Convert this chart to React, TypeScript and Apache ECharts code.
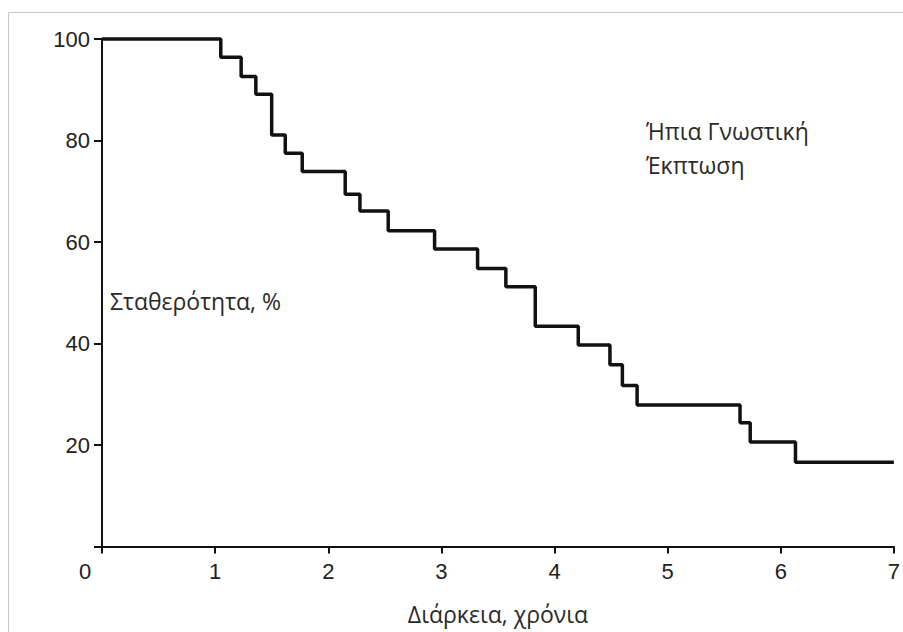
import React, { useEffect, useRef } from "react";
import * as echarts from "echarts";

const timesYears = [0, 1.05, 1.23, 1.36, 1.5, 1.62, 1.77, 2.15, 2.28, 2.53, 2.94, 3.32, 3.57, 3.83, 4.21, 4.49, 4.6, 4.73, 5.64, 5.73, 6.13, 7.0];
const stabilityPct = [100, 96.4, 92.6, 89.1, 81.1, 77.5, 73.9, 69.4, 66.1, 62.2, 58.6, 54.8, 51.2, 43.4, 39.7, 35.8, 31.7, 27.9, 24.4, 20.6, 16.6, 16.6];
const xTicks = [0, 1, 2, 3, 4, 5, 6, 7];
const yTicks = [0, 20, 40, 60, 80, 100];
const yAxisTitle = "Σταθερότητα, %";
const xAxisTitle = "Διάρκεια, χρόνια";
const groupLabel = ["Ήπια Γνωστική", "Έκπτωση"];

const tickFont = "Liberation Sans";
const textFont = "'Open Sans', 'Noto Sans', sans-serif";

function textEl(text: string, x: number, y: number, align: string) {
  return {
    type: "text",
    x,
    y,
    style: {
      text,
      fontFamily: textFont,
      fontSize: 23,
      fill: "#2a2a2a",
      verticalAlign: "middle",
      align,
    },
  };
}

export default function App() {
  const ref = useRef<HTMLDivElement>(null);
  useEffect(() => {
    if (!ref.current) return;
    const chart = echarts.init(ref.current, undefined, { renderer: "svg" });
    const data = timesYears.map((t, i) => [t, stabilityPct[i]]);
    chart.setOption({
      animation: false,
      backgroundColor: "#ffffff",
      grid: { left: 102, right: 5, top: 39, bottom: 85.5, containLabel: false },
      xAxis: {
        type: "value",
        min: xTicks[0],
        max: xTicks[xTicks.length - 1],
        interval: 1,
        splitLine: { show: false },
        axisLine: { show: true, onZero: false, lineStyle: { color: "#111", width: 2 } },
        axisTick: { show: true, inside: false, length: 7, lineStyle: { color: "#111", width: 2 } },
        axisLabel: {
          margin: 14,
          color: "#222",
          fontFamily: tickFont,
          fontSize: 22,
          formatter: (v: number) => (v === 0 ? "{z|0}" : String(v)),
          rich: { z: { fontFamily: tickFont, fontSize: 22, color: "#222", padding: [0, 34, 0, 0] } },
        },
      },
      yAxis: {
        type: "value",
        min: yTicks[0],
        max: yTicks[yTicks.length - 1],
        interval: 20,
        splitLine: { show: false },
        axisLine: { show: true, lineStyle: { color: "#111", width: 2 } },
        axisTick: { show: true, inside: false, length: 8, lineStyle: { color: "#111", width: 2 } },
        axisLabel: {
          margin: 12,
          color: "#222",
          fontFamily: tickFont,
          fontSize: 22,
          formatter: (v: number) => (v === 0 ? "" : String(v)),
        },
      },
      series: [
        {
          type: "line",
          step: "end",
          data,
          symbol: "none",
          lineStyle: { color: "#111", width: 3.5 },
          clip: false,
        },
      ],
      graphic: [
        {
          type: "rect",
          shape: { x: 8.5, y: 12.5, width: 1000, height: 1000 },
          style: { fill: "none", stroke: "#c8c8c8", lineWidth: 1 },
          silent: true,
          z: -10,
        },
        textEl(yAxisTitle, 110, 301, "left"),
        textEl(groupLabel[0], 646, 131, "left"),
        textEl(groupLabel[1], 646, 165, "left"),
        textEl(xAxisTitle, 498, 614, "center"),
      ],
    });
    return () => chart.dispose();
  }, []);
  return <div ref={ref} style={{ position: "fixed", left: 0, top: 0, width: 903, height: 632 }} />;
}
